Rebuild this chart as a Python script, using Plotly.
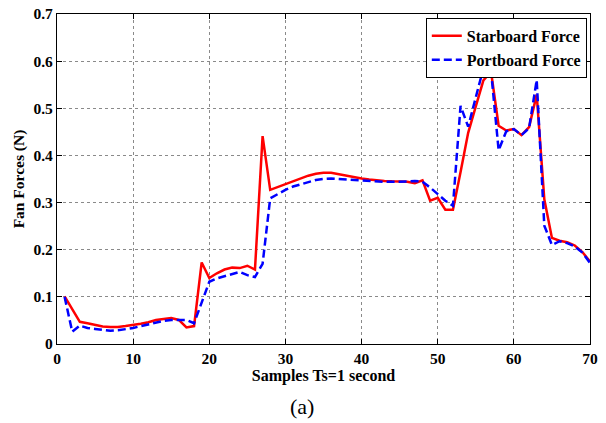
import plotly.graph_objects as go

samples = list(range(1, 71))
starboard = [0.101, 0.074, 0.047, 0.044, 0.040, 0.037, 0.036, 0.036, 0.038, 0.040,
             0.043, 0.046, 0.051, 0.053, 0.055, 0.051, 0.035, 0.038, 0.173, 0.140,
             0.150, 0.158, 0.162, 0.161, 0.166, 0.158, 0.441, 0.327, 0.333, 0.340,
             0.346, 0.352, 0.357, 0.361, 0.363, 0.363, 0.360, 0.356, 0.353, 0.351,
             0.349, 0.347, 0.346, 0.345, 0.344, 0.344, 0.341, 0.347, 0.304, 0.310,
             0.285, 0.285, 0.365, 0.448, 0.504, 0.559, 0.578, 0.463, 0.453, 0.456,
             0.443, 0.460, 0.529, 0.307, 0.225, 0.219, 0.216, 0.209, 0.195, 0.175]
portboard = [0.100, 0.026, 0.039, 0.034, 0.032, 0.030, 0.028, 0.029, 0.031, 0.034,
             0.038, 0.042, 0.046, 0.049, 0.051, 0.051, 0.051, 0.044, 0.090, 0.132,
             0.139, 0.144, 0.148, 0.153, 0.146, 0.142, 0.170, 0.309, 0.318, 0.327,
             0.334, 0.339, 0.344, 0.348, 0.350, 0.351, 0.350, 0.349, 0.347, 0.346,
             0.345, 0.344, 0.344, 0.344, 0.344, 0.345, 0.346, 0.344, 0.332, 0.318,
             0.304, 0.293, 0.505, 0.461, 0.525, 0.585, 0.580, 0.411, 0.451, 0.456,
             0.443, 0.458, 0.560, 0.251, 0.210, 0.218, 0.214, 0.207, 0.194, 0.172]

x_ticks = [0, 10, 20, 30, 40, 50, 60, 70]
y_ticks = [0, 0.1, 0.2, 0.3, 0.4, 0.5, 0.6, 0.7]
y_tick_labels = ["0", "0.1", "0.2", "0.3", "0.4", "0.5", "0.6", "0.7"]

font_family = "Liberation Serif"

fig = go.Figure()
fig.add_trace(go.Scatter(x=samples, y=starboard, mode="lines", name="<b>Starboard Force</b>",
                         line=dict(color="#ff0000", width=2.5)))
fig.add_trace(go.Scatter(x=samples, y=portboard, mode="lines", name="<b>Portboard Force</b>",
                         line=dict(color="#0000ff", width=2.5, dash="8px,4px")))

axis_common = dict(showline=True, linecolor="black", linewidth=1.2, mirror="ticks",
                   ticks="inside", ticklen=5, tickcolor="black",
                   showgrid=True, gridcolor="#8a8a8a", gridwidth=1, griddash="dot",
                   zeroline=False, automargin=False,
                   tickfont=dict(family=font_family, size=15.5, color="black"))

fig.update_xaxes(range=[0, 70], tickvals=x_ticks,
                 ticktext=["<b>%d</b>" % v for v in x_ticks],
                 title=dict(text="<b>Samples Ts=1 second</b>", standoff=0,
                            font=dict(family=font_family, size=16, color="black")),
                 **axis_common)
fig.update_yaxes(range=[0, 0.7], tickvals=y_ticks,
                 ticktext=["<b>%s</b>" % t for t in y_tick_labels],
                 title=dict(text="<b>Fan Forces (N)</b>", standoff=4,
                            font=dict(family=font_family, size=15.5, color="black")),
                 **axis_common)

fig.update_layout(
    width=606, height=423,
    margin=dict(l=57, r=16, t=14, b=79),
    paper_bgcolor="white", plot_bgcolor="white",
    font=dict(family=font_family, color="black"),
    showlegend=True,
    legend=dict(x=0.994, y=0.988, xanchor="right", yanchor="top",
                bgcolor="white", bordercolor="black", borderwidth=1,
                font=dict(family=font_family, size=16, color="black"),
                itemwidth=30, tracegroupgap=0),
    annotations=[dict(text="(a)", xref="paper", yref="paper", x=0.46, y=-0.19,
                      xanchor="center", yanchor="middle", showarrow=False,
                      font=dict(family=font_family, size=22, color="black"))],
)

fig.write_html("out.html")
